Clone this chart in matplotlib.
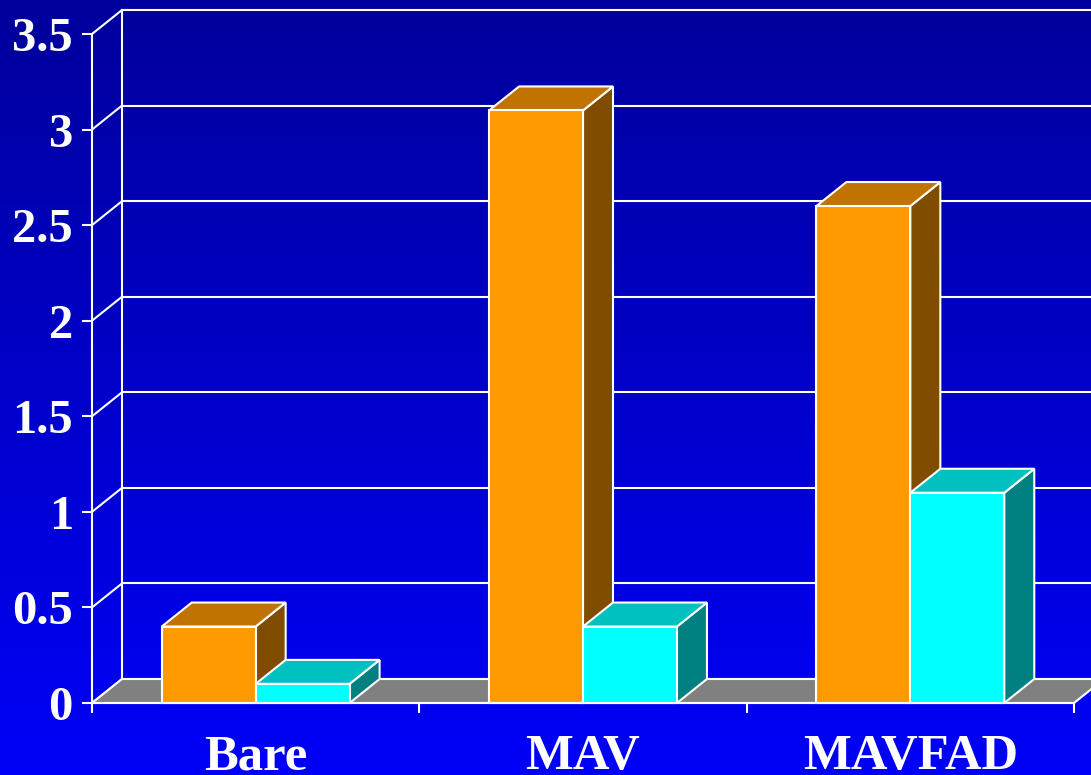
import numpy as np
import matplotlib.pyplot as plt
from matplotlib.patches import Polygon
from matplotlib.colors import LinearSegmentedColormap

# data
categories = ["Bare", "MAV", "MAVFAD"]
series_orange = [0.4, 3.1, 2.6]
series_cyan = [0.1, 0.4, 1.1]
y_ticks = [0, 0.5, 1, 1.5, 2, 2.5, 3, 3.5]
y_labels = ["0", "0.5", "1", "1.5", "2", "2.5", "3", "3.5"]

# depth of the fake 3d view, in data units
DX = 30 / 982 * 3
DY = 24 / 669 * 3.5
BAR_W = 0.287

plt.rcParams["font.family"] = ["Liberation Serif", "DejaVu Serif"]
plt.rcParams["font.weight"] = "bold"

fig = plt.figure(figsize=(10.91, 7.75), dpi=100)

# blue gradient background
bg = fig.add_axes([0, 0, 1, 1], zorder=-1)
grad = np.linspace(0, 1, 256).reshape(-1, 1)
cmap = LinearSegmentedColormap.from_list("bg", ["#00009c", "#0000f8"])
bg.imshow(grad, aspect="auto", cmap=cmap, extent=[0, 1, 0, 1], origin="upper")
bg.axis("off")

ax = fig.add_axes([92 / 1091, 72 / 775, 982 / 1091, 669 / 775])
ax.patch.set_visible(False)
ax.set_xlim(0, 3)
ax.set_ylim(0, 3.5)

# walls and grid
for y in y_ticks:
    ax.plot([DX, 3 + DX], [y + DY, y + DY], color="white", lw=1.5, clip_on=False, zorder=1)
    ax.plot([0, DX], [y, y + DY], color="white", lw=1.5, clip_on=False, zorder=1)
ax.plot([DX, DX], [DY, 3.5 + DY], color="white", lw=1.5, clip_on=False, zorder=1)

floor = Polygon([(0, 0), (3, 0), (3 + DX, DY), (DX, DY)], closed=True,
                facecolor="#808080", edgecolor="white", lw=1.5, clip_on=False, zorder=2)
ax.add_patch(floor)


def draw_bar(x0, h, front, top, side, z):
    s = Polygon([(x0 + BAR_W, 0), (x0 + BAR_W + DX, DY), (x0 + BAR_W + DX, h + DY), (x0 + BAR_W, h)],
                closed=True, facecolor=side, edgecolor="white", lw=1.5, clip_on=False, zorder=z)
    t = Polygon([(x0, h), (x0 + BAR_W, h), (x0 + BAR_W + DX, h + DY), (x0 + DX, h + DY)],
                closed=True, facecolor=top, edgecolor="white", lw=1.5, clip_on=False, zorder=z)
    ax.add_patch(s)
    ax.add_patch(t)
    ax.bar(x0, h, BAR_W, align="edge", color=front, edgecolor="white", lw=1.5,
           clip_on=False, zorder=z + 0.5)


z = 3
for i in range(len(categories)):
    c = i + 0.5
    draw_bar(c - BAR_W, series_orange[i], "#ff9900", "#c07300", "#804d00", z)
    z += 1
    draw_bar(c, series_cyan[i], "#00ffff", "#00c0c0", "#008080", z)
    z += 1

# axes styling
for side in ["top", "right"]:
    ax.spines[side].set_visible(False)
for side in ["left", "bottom"]:
    ax.spines[side].set_color("white")
    ax.spines[side].set_linewidth(1.5)
    ax.spines[side].set_zorder(20)

ax.set_yticks(y_ticks)
ax.set_yticklabels(y_labels)
ax.tick_params(axis="y", colors="white", length=7.2, width=1.5, pad=6.5, labelsize=35)

ax.set_xticks([0, 1, 2, 3])
ax.set_xticklabels([])
ax.set_xticks([0.5, 1.5, 2.5], minor=True)
ax.set_xticklabels(categories, minor=True)
ax.tick_params(axis="x", which="major", colors="white", length=7.2, width=1.5)
ax.tick_params(axis="x", which="minor", colors="white", length=0, pad=22.5, labelsize=36.5)

fig.savefig("out.png", dpi=100)
